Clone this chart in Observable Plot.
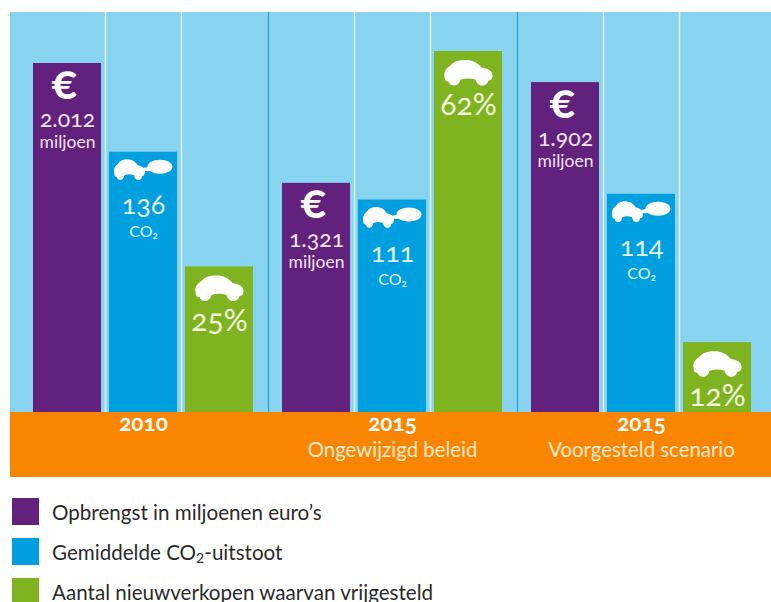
<!DOCTYPE html>
<html lang="nl">
<head>
<meta charset="utf-8">
<script src="https://cdn.jsdelivr.net/npm/d3@7"></script>
<script src="https://cdn.jsdelivr.net/npm/@observablehq/plot@0.6"></script>
<style>
  html, body { margin: 0; padding: 0; background: #fff; }
  #page { position: relative; width: 771px; height: 602px; overflow: hidden; font-family: Lato, "Open Sans", sans-serif; }
  .band { position: absolute; left: 10px; right: 0; }
  #sky { top: 12px; height: 400px; background: #88d3ef; }
  #ground { top: 412px; height: 65px; background: #fa8500; }
  #chart { position: absolute; left: 0; top: 0; }
  #chart svg { background: transparent; display: block; overflow: visible; }
  #chart text { font-family: Lato, "Open Sans", sans-serif; font-feature-settings: "onum"; font-variant-numeric: oldstyle-nums; }
  .key { position: absolute; left: 12px; height: 27px; display: flex; align-items: center; font-size: 20.6px; color: #2b2b2b; white-space: nowrap; }
  .key i { display: block; width: 27px; height: 27px; margin-right: 13px; }
  .key sub { font-size: 14px; vertical-align: -3px; line-height: 0; }
</style>
</head>
<body>
<div id="page">
  <div id="sky" class="band"></div>
  <div id="ground" class="band"></div>
  <div id="chart"></div>
  <div id="legend"></div>
</div>
<script>
const groupYears = ["2010", "2015", "2015"];
const groupNotes = ["", "Ongewijzigd beleid", "Voorgesteld scenario"];
const groupKeys = ["2010", "2015 Ongewijzigd beleid", "2015 Voorgesteld scenario"];

const seriesKeys = ["opbrengst", "uitstoot", "vrijgesteld"];
const seriesLabels = ["Opbrengst in miljoenen euro’s", "Gemiddelde CO<sub>2</sub>-uitstoot", "Aantal nieuwverkopen waarvan vrijgesteld"];
const seriesColors = ["#62217d", "#009fe0", "#7fb31f"];

const opbrengst = [2012, 1321, 1902];
const uitstoot = [136, 111, 114];
const vrijgesteld = [25, 62, 12];
// Each series has its own implicit scale in the original: value at the top of the light-blue panel.
const panelTops = [2306, 209, 68.7];
const seriesValues = [opbrengst, uitstoot, vrijgesteld];

const nl = d3.formatLocale({decimal: ",", thousands: ".", grouping: [3], currency: ["€", ""]});
const formats = [nl.format(","), String, (v) => `${v}%`];

const rows = seriesKeys.flatMap((series, s) =>
  groupKeys.map((group, g) => ({
    group, series,
    value: seriesValues[s][g],
    level: seriesValues[s][g] / panelTops[s],
    label: formats[s](seriesValues[s][g]),
    lastGroup: g === groupKeys.length - 1
  }))
);
const groups = groupKeys.map((group, g) => ({group, year: groupYears[g], note: groupNotes[g]}));
const only = (s) => rows.filter((d) => d.series === seriesKeys[s]);

function blob(c, cx, cy, rx, ry) {
  const k = 0.5523;
  c.moveTo(cx - rx, cy);
  c.bezierCurveTo(cx - rx, cy - k * ry, cx - k * rx, cy - ry, cx, cy - ry);
  c.bezierCurveTo(cx + k * rx, cy - ry, cx + rx, cy - k * ry, cx + rx, cy);
  c.bezierCurveTo(cx + rx, cy + k * ry, cx + k * rx, cy + ry, cx, cy + ry);
  c.bezierCurveTo(cx - k * rx, cy + ry, cx - rx, cy + k * ry, cx - rx, cy);
  c.closePath();
}
function carShape(c, ox, oy, sx, sy) {
  const P = (x, y) => [ox + x * sx, oy + y * sy];
  c.moveTo(...P(-24, 3));
  c.bezierCurveTo(...P(-25, -3), ...P(-21, -6), ...P(-18, -8));
  c.bezierCurveTo(...P(-15, -12), ...P(-10, -13.5), ...P(-3, -13.5));
  c.bezierCurveTo(...P(4, -13.5), ...P(9, -11), ...P(13, -6));
  c.bezierCurveTo(...P(19, -5), ...P(24, -3), ...P(24, 2));
  c.bezierCurveTo(...P(24, 6), ...P(22, 7), ...P(20, 7));
  c.bezierCurveTo(...P(19, 11), ...P(16, 12), ...P(14, 12));
  c.bezierCurveTo(...P(11, 12), ...P(8, 10), ...P(7, 6));
  c.bezierCurveTo(...P(2, 4.5), ...P(-3, 4.5), ...P(-8, 6));
  c.bezierCurveTo(...P(-9, 10), ...P(-12, 12), ...P(-14, 12));
  c.bezierCurveTo(...P(-17, 12), ...P(-19, 11), ...P(-20, 8));
  c.bezierCurveTo(...P(-23, 8), ...P(-24, 6), ...P(-24, 3));
  c.closePath();
}
const carSymbol = {draw(c, size) { const s = Math.sqrt(size / Math.PI) / 10; carShape(c, 0, 0, s, s); }};
const carCloudSymbol = {draw(c, size) {
  const s = Math.sqrt(size / Math.PI) / 10;
  carShape(c, -14 * s, 0, 0.64 * s, 0.82 * s);
  blob(c, 4 * s, -1 * s, 5 * s, 2 * s);
  blob(c, 16.5 * s, -3.5 * s, 12.5 * s, 7 * s);
}};

const white = "#fff";
const pale = (s) => ["#f3e6f7", "#e4f5fd", "#f2f8df"][s];
const fxChannel = {fx: "group", x: "series"};

const chart = Plot.plot({
  width: 771,
  height: 477,
  marginLeft: 33,
  marginRight: 20,
  marginTop: 12,
  marginBottom: 65,
  facet: {label: null},
  fx: {domain: groupKeys, axis: null, paddingInner: 29 / 249, paddingOuter: 0, round: false},
  x: {domain: seriesKeys, axis: null, paddingInner: 8 / 76, paddingOuter: 0, round: false},
  y: {domain: [0, 1], axis: null},
  color: {domain: seriesKeys, range: seriesColors},
  marks: [
    Plot.ruleX(rows.filter((d) => d.series !== seriesKeys[2]), {...fxChannel, y1: 0, y2: 1, dx: 38, stroke: "#e3f4fb", strokeWidth: 1.5}),
    Plot.ruleX(rows.filter((d) => d.series === seriesKeys[2] && !d.lastGroup), {...fxChannel, y1: 0, y2: 1, dx: 49, stroke: "#2a9fd2", strokeWidth: 1.2}),
    Plot.barY(rows, {...fxChannel, y: "level", fill: "series"}),

    // euro icon, amount, unit
    Plot.text(only(0), {...fxChannel, y: "level", text: () => "€", dy: 20, dx: -3, fill: white, fontSize: 47, fontWeight: 700}),
    Plot.text(only(0), {...fxChannel, y: "level", text: "label", dy: 56, fill: pale(0), fontSize: 23, letterSpacing: 1}),
    Plot.text(only(0), {...fxChannel, y: "level", text: () => "miljoen", dy: 79, fill: pale(0), fontSize: 17.5}),

    // car with cloud, value, unit
    Plot.dot(only(1), {...fxChannel, y: "level", dy: 18, r: 10, symbol: carCloudSymbol, fill: white, stroke: "none"}),
    Plot.text(only(1), {...fxChannel, y: "level", text: "label", dy: 53, fill: pale(1), fontSize: 27}),
    Plot.text(only(1), {...fxChannel, y: "level", text: () => "CO₂", dy: 80, fill: pale(1), fontSize: 16}),

    // car, share
    Plot.dot(only(2), {...fxChannel, y: "level", dy: 22, r: 10, symbol: carSymbol, fill: white, stroke: "none"}),
    Plot.text(only(2), {...fxChannel, y: "level", text: "label", dy: 54, fill: pale(2), fontSize: 30}),

    // group labels on the orange band
    Plot.text(groups, {fx: "group", frameAnchor: "bottom", text: "year", dy: 18, fill: white, fontSize: 22.5, fontWeight: 700}),
    Plot.text(groups, {fx: "group", frameAnchor: "bottom", text: "note", dy: 44, fill: "#fde9cf", fontSize: 20.4})
  ]
});
document.getElementById("chart").appendChild(chart);

const legendTops = [498, 538, 578];
const legend = document.getElementById("legend");
seriesLabels.forEach((label, s) => {
  const row = document.createElement("div");
  row.className = "key";
  row.style.top = legendTops[s] + "px";
  row.innerHTML = `<i style="background:${seriesColors[s]}"></i><span>${label}</span>`;
  legend.appendChild(row);
});
</script>
</body>
</html>
